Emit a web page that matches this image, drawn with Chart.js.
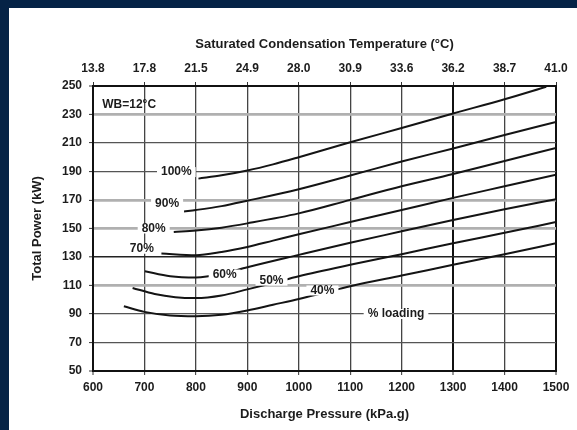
<!DOCTYPE html>
<html>
<head>
<meta charset="utf-8">
<script src="https://cdn.jsdelivr.net/npm/chart.js@4"></script>
<style>
  html, body { margin: 0; padding: 0; background: #052346; }
  #frame { position: absolute; left: 0; top: 0; width: 577px; height: 430px; background: #052346; overflow: hidden; }
  #panel { position: absolute; left: 9px; top: 8px; width: 568px; height: 422px; background: #ffffff; }
  canvas { display: block; }
</style>
</head>
<body>
<div id="frame"><div id="panel"><canvas id="c" width="568" height="422"></canvas></div></div>
<script>
// Discharge pressure (kPa.g) on the bottom axis, total power (kW) on the left axis.
const pressureTicks = [600, 700, 800, 900, 1000, 1100, 1200, 1300, 1400, 1500];
const tempLabels = ['13.8', '17.8', '21.5', '24.9', '28.0', '30.9', '33.6', '36.2', '38.7', '41.0'];

// One curve per compressor loading step
const load100X = [805, 850, 900, 950, 1000, 1100, 1200, 1300, 1400, 1481];
const load100Y = [185, 187.3, 190.7, 195, 200, 210.5, 220.5, 230.7, 240.7, 249.5];
const load90X = [777, 800, 850, 900, 1000, 1100, 1200, 1300, 1400, 1500];
const load90Y = [162, 163, 165.7, 169.5, 177.6, 187.2, 197, 206.2, 215.6, 224.8];
const load80X = [757, 800, 850, 900, 1000, 1100, 1200, 1300, 1400, 1500];
const load80Y = [147.6, 148.6, 150.6, 153.6, 160.6, 170.1, 179.6, 188.2, 197.4, 206.5];
const load70X = [733, 800, 850, 900, 950, 1000, 1100, 1200, 1300, 1400, 1500];
const load70Y = [132.5, 131.3, 133.5, 137, 141.5, 146, 154.5, 163, 171.5, 179.6, 187.7];
const load60X = [701, 750, 800, 850, 900, 1000, 1100, 1200, 1300, 1400, 1500];
const load60Y = [120, 116.5, 115.6, 118, 122.8, 131.5, 140, 148, 156, 163.5, 170.5];
const load50X = [677, 720, 760, 800, 850, 900, 950, 1000, 1100, 1200, 1300, 1400, 1500];
const load50Y = [108.3, 104, 101.8, 101.2, 103, 107.3, 111.8, 116.5, 124.5, 132, 139.6, 147, 154.5];
const load40X = [660, 700, 750, 800, 850, 900, 950, 1000, 1050, 1100, 1200, 1300, 1400, 1500];
const load40Y = [95.5, 91.5, 89, 88.5, 89.5, 92.5, 96.5, 100.5, 105, 109.5, 117, 124.5, 132, 139.6];

// Curve captions, placed in data units
const captionText = ['100%', '90%', '80%', '70%', '60%', '50%', '40%', '% loading'];
const captionX = [762, 744, 718, 695, 856, 947, 1046, 1189];
const captionY = [189.6, 167.3, 150, 135.8, 117.7, 113.4, 106.5, 90];

const curves = [
  [load100X, load100Y], [load90X, load90Y], [load80X, load80Y], [load70X, load70Y],
  [load60X, load60Y], [load50X, load50Y], [load40X, load40Y]
];

const datasets = curves.map(([xs, ys]) => ({
  data: xs.map((x, i) => ({ x: x, y: ys[i] })),
  borderColor: '#141414',
  borderWidth: 2,
  pointRadius: 0,
  fill: false,
  cubicInterpolationMode: 'monotone'
}));

const TEXT = '#1c1c1c';
const tickFont = { family: 'Liberation Sans, Arial, sans-serif', size: 12, weight: 'bold' };
const titleFont = { family: 'Liberation Sans, Arial, sans-serif', size: 13, weight: 'bold' };

function yGridColor(v) {
  if (v === 50 || v === 250) return '#111';
  if (v === 130) return '#222';
  if (v === 110 || v === 150 || v === 170 || v === 230) return '#b0b0b0';
  return '#555';
}
function yGridWidth(v) {
  if (v === 50 || v === 250) return 2;
  if (v === 130) return 1.6;
  if (v === 110 || v === 150 || v === 170 || v === 230) return 2.8;
  return 1.2;
}
function xGridColor(v) {
  if (v === 600 || v === 1500 || v === 1300) return '#111';
  return '#444';
}
function xGridWidth(v) {
  if (v === 600 || v === 1500) return 2;
  if (v === 1300) return 2;
  return 1.3;
}

// Captions with a white box behind them, drawn over grid and curves
const captionPlugin = {
  id: 'captions',
  afterDatasetsDraw(chart) {
    const { ctx, scales } = chart;
    ctx.save();
    ctx.font = 'bold 12px "Liberation Sans", Arial, sans-serif';
    ctx.textBaseline = 'middle';
    ctx.textAlign = 'center';
    captionText.forEach((t, i) => {
      const px = scales.x.getPixelForValue(captionX[i]);
      const py = scales.y.getPixelForValue(captionY[i]);
      const w = ctx.measureText(t).width;
      ctx.fillStyle = '#ffffff';
      ctx.fillRect(px - w / 2 - 4, py - 5, w + 8, 10);
      ctx.fillStyle = TEXT;
      ctx.fillText(t, px, py);
    });
    // wet-bulb note in the top-left corner of the plot
    ctx.textAlign = 'left';
    ctx.fillText('WB=12°C', scales.x.getPixelForValue(618), scales.y.getPixelForValue(236.6));
    ctx.restore();
  }
};

new Chart(document.getElementById('c'), {
  type: 'line',
  data: { datasets: datasets },
  plugins: [captionPlugin],
  options: {
    responsive: false,
    devicePixelRatio: 1,
    animation: false,
    layout: { padding: { left: 0, right: 21, top: 0, bottom: 0 } },
    plugins: { legend: { display: false }, tooltip: { enabled: false } },
    scales: {
      x: {
        type: 'linear',
        position: 'bottom',
        min: 600, max: 1500,
        afterBuildTicks: (s) => { s.ticks = pressureTicks.map(v => ({ value: v })); },
        afterFit: (s) => { s.height = 59; },
        ticks: {
          color: TEXT, font: tickFont, padding: 5, maxRotation: 0, autoSkip: false,
          callback: (v) => String(v)
        },
        grid: {
          color: (c) => xGridColor(c.tick.value),
          lineWidth: (c) => xGridWidth(c.tick.value),
          tickLength: 4, tickColor: '#333', tickWidth: 1
        },
        border: { color: '#111', width: 2 },
        title: { display: true, text: 'Discharge Pressure (kPa.g)', color: TEXT, font: titleFont, padding: { top: 0, bottom: 8 } }
      },
      xTop: {
        type: 'linear',
        position: 'top',
        min: 600, max: 1500,
        afterBuildTicks: (s) => { s.ticks = pressureTicks.map(v => ({ value: v })); },
        afterFit: (s) => { s.height = 78; },
        ticks: {
          color: TEXT, font: tickFont, padding: 6, maxRotation: 0, autoSkip: false,
          callback: (v) => tempLabels[pressureTicks.indexOf(v)]
        },
        grid: { drawOnChartArea: false, tickLength: 4, tickColor: '#333' },
        border: { color: '#111', width: 2 },
        title: { display: true, text: 'Saturated Condensation Temperature (°C)', color: TEXT, font: titleFont, padding: { top: 29, bottom: 0 } }
      },
      y: {
        type: 'linear',
        position: 'left',
        min: 50, max: 250,
        ticks: { stepSize: 20, color: TEXT, font: tickFont, padding: 7 },
        afterFit: (s) => { s.width = 84; },
        grid: {
          color: (c) => yGridColor(c.tick.value),
          lineWidth: (c) => yGridWidth(c.tick.value),
          tickLength: 4, tickColor: '#333', tickWidth: 1
        },
        border: { color: '#111', width: 2 },
        title: { display: true, text: 'Total Power (kW)', color: TEXT, font: titleFont, padding: { top: 21, bottom: 0 } }
      }
    }
  }
});
</script>
</body>
</html>
